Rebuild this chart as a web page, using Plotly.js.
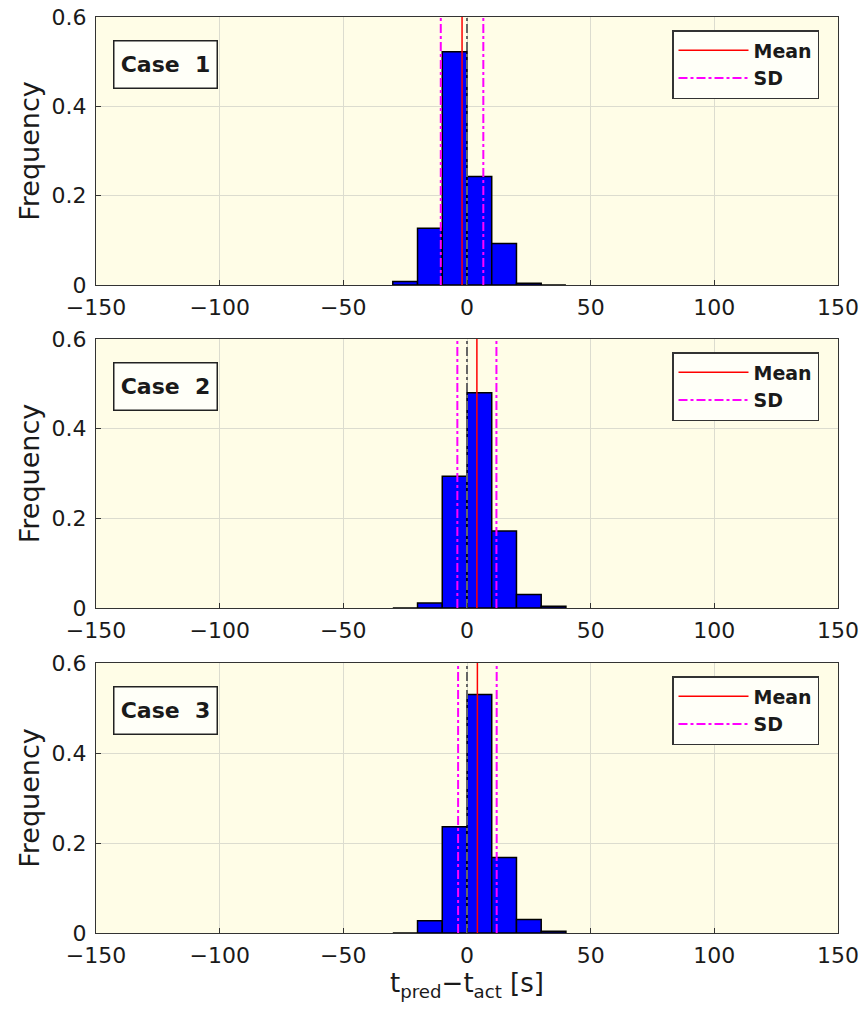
<!DOCTYPE html>
<html>
<head>
<meta charset="utf-8">
<script src="https://cdn.plot.ly/plotly-3.0.1.min.js"></script>
<style>html,body{margin:0;padding:0;background:#fff;}#chart{width:866px;height:1013px;}</style>
</head>
<body>
<div id="chart"></div>
<script>
// ---- data ----
const binCenters = [-25, -15, -5, 5, 15, 25, 35];
const case1Freq = [0.008, 0.127, 0.522, 0.243, 0.093, 0.004, 0.0];
const case2Freq = [0.0, 0.011, 0.294, 0.480, 0.172, 0.030, 0.004];
const case3Freq = [0.0, 0.027, 0.236, 0.530, 0.168, 0.030, 0.004];
const caseNames = ["Case\u00a0 1", "Case\u00a0 2", "Case\u00a0 3"];
const caseMeans = [-2.0, 4.0, 4.2];
const caseSDs = [8.6, 7.9, 7.8];
const xTicks = [-150, -100, -50, 0, 50, 100, 150];
const yTicks = [0, 0.2, 0.4, 0.6];
const yTickText = ["0", "0.2", "0.4", "0.6"];
const freqs = [case1Freq, case2Freq, case3Freq];

const FONT = "DejaVu Sans, Verdana, sans-serif";
const TXT = "#1a1a1a";
const BG = "#fffde7";
const binWidth = 10;
const yMax = 0.6;

const traces = [];
const legendNames = ["legend", "legend2", "legend3"];
for (let i = 0; i < 3; i++) {
  const xa = i === 0 ? "x" : "x" + (i + 1);
  const ya = i === 0 ? "y" : "y" + (i + 1);
  traces.push({
    type: "bar", x: binCenters, y: freqs[i], width: binCenters.map(() => binWidth),
    marker: {color: "#0000ff", line: {color: "#000000", width: 1.5}},
    xaxis: xa, yaxis: ya, showlegend: false, hoverinfo: "skip"
  });
  // zero reference line
  traces.push({
    type: "scatter", mode: "lines", x: [0, 0], y: [0, yMax],
    line: {color: "#666666", width: 2, dash: "dashdot"},
    xaxis: xa, yaxis: ya, showlegend: false, hoverinfo: "skip"
  });
  traces.push({
    type: "scatter", mode: "lines", name: "Mean",
    x: [caseMeans[i], caseMeans[i]], y: [0, yMax],
    line: {color: "#ff0000", width: 1.5},
    xaxis: xa, yaxis: ya, legend: legendNames[i], hoverinfo: "skip"
  });
  const lo = caseMeans[i] - caseSDs[i], hi = caseMeans[i] + caseSDs[i];
  traces.push({
    type: "scatter", mode: "lines", name: "SD",
    x: [lo, lo, null, hi, hi], y: [0, yMax, null, 0, yMax],
    line: {color: "#ff00ff", width: 2, dash: "dashdot"},
    xaxis: xa, yaxis: ya, legend: legendNames[i], hoverinfo: "skip", connectgaps: false
  });
}

const H = 1013, mt = 17, mb = 80;
const plotH = H - mt - mb;
function dom(topPx, botPx) {
  return [1 - (botPx - mt) / plotH, 1 - (topPx - mt) / plotH];
}
const panelPx = [[17, 285], [339, 608], [663, 933]];

const layout = {
  width: 866, height: 1013,
  margin: {l: 96, r: 28, t: mt, b: mb},
  paper_bgcolor: "#ffffff",
  plot_bgcolor: BG,
  font: {family: FONT, size: 22, color: TXT},
  bargap: 0,
  annotations: [],
  shapes: []
};

for (let i = 0; i < 3; i++) {
  const sfx = i === 0 ? "" : String(i + 1);
  const d = dom(panelPx[i][0], panelPx[i][1]);
  layout["xaxis" + sfx] = {
    domain: [0, 1], anchor: "y" + sfx, range: [-150, 150],
    tickvals: xTicks, ticktext: xTicks.map(v => v < 0 ? "\u2212" + Math.abs(v) : String(v)),
    ticks: "inside", ticklen: 5, tickcolor: "#333", ticklabelstandoff: 3,
    showgrid: true, gridcolor: "#dcdccf", gridwidth: 1,
    showline: true, linecolor: "#333", linewidth: 1, mirror: true,
    zeroline: false, tickfont: {size: 22, family: FONT, color: TXT},
    automargin: false
  };
  layout["yaxis" + sfx] = {
    domain: d, anchor: "x" + sfx, range: [0, yMax],
    tickvals: yTicks, ticktext: yTickText,
    ticks: "inside", ticklen: 5, tickcolor: "#333", ticklabelstandoff: 4,
    showgrid: true, gridcolor: "#dcdccf", gridwidth: 1,
    showline: true, linecolor: "#333", linewidth: 1, mirror: true,
    zeroline: false, tickfont: {size: 22, family: FONT, color: TXT},
    title: {text: "Frequency", font: {size: 27, family: FONT, color: TXT}, standoff: 4},
    automargin: false
  };
  layout[legendNames[i]] = {
    x: (672 - 96) / 742, xanchor: "left",
    y: 1 - (panelPx[i][0] + 13 - mt) / plotH, yanchor: "top",
    bgcolor: "#fffff8", bordercolor: "#333", borderwidth: 1.5,
    font: {size: 19, family: FONT, color: TXT, weight: "bold"},
    tracegroupgap: 0, itemwidth: 70, entrywidth: 70
  };
  layout.annotations.push({
    xref: "paper", yref: "paper",
    x: (113 - 96) / 742, xanchor: "left",
    y: 1 - (panelPx[i][0] + 23 - mt) / plotH, yanchor: "top",
    text: "<b>" + caseNames[i] + "</b>", showarrow: false,
    font: {size: 22, family: FONT, color: TXT},
    bgcolor: "#fffff8", bordercolor: "#222", borderwidth: 1.5,
    width: 98, height: 42, borderpad: 2, align: "center"
  });
}
layout.xaxis3.title = {text: "t<sub>pred</sub>\u2212t<sub>act</sub> [s]", font: {size: 26, family: FONT, color: TXT}, standoff: 4};

Plotly.newPlot("chart", traces, layout, {displayModeBar: false, staticPlot: true});
</script>
</body>
</html>
